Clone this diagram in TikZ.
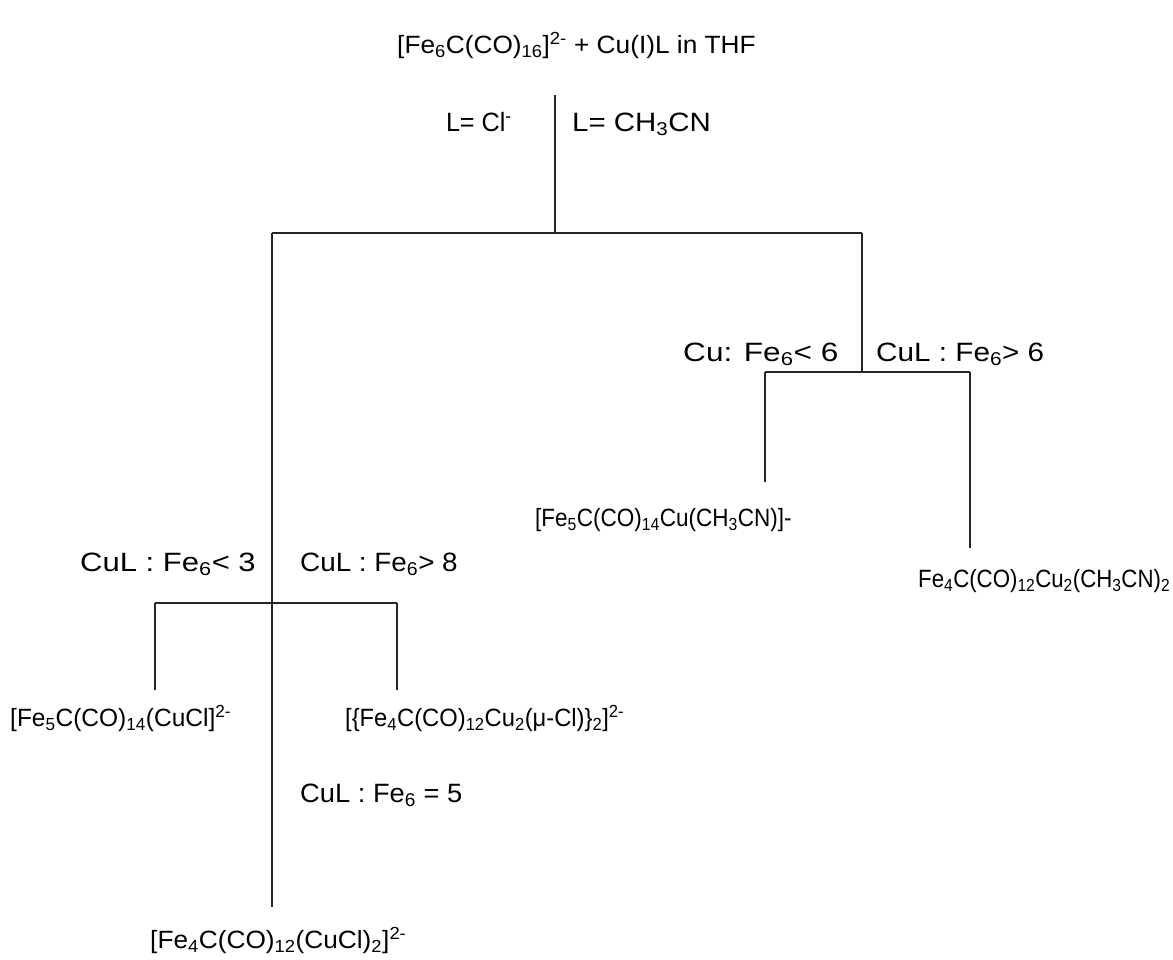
\documentclass[tikz,border=0pt]{standalone}
\usepackage{fontspec}
\setmainfont{Liberation Sans}
\newcommand\lo[1]{\textsubscript{#1}}
\newcommand\hi[1]{\textsuperscript{#1}}
\begin{document}
\begin{tikzpicture}[x=1pt,y=-1pt,
  lbl/.style={inner sep=0pt,font=\fontsize{25}{29}\selectfont,text height=18pt,text depth=5pt,anchor=west,transform shape,xscale=#1},
  lbl/.default=1,
  cond/.style={lbl=#1,font=\fontsize{26.5}{30}\selectfont},
  branch/.style={draw=black!85,line width=2.8pt}]
\useasboundingbox (0,0) rectangle (1173,959);
% texts
\node[lbl=1.05] (top) at (397,47) {[Fe\lo{6}C(CO)\lo{16}]\hi{2-} + Cu(I)L in THF};
\node[cond=0.95,anchor=east] (lcl) at (512,125) {L= Cl\hi{-}};
\node[cond=1.11] (lac) at (572,125) {L= CH\lo{3}CN};
\node[cond=1.19] (r1) at (683,355) {Cu: Fe\lo{6}< 6};
\node[cond=1.12] (r2) at (876,355) {CuL : Fe\lo{6}> 6};
\node[cond=1.17] (l1) at (80,565) {CuL : Fe\lo{6}< 3};
\node[cond=1.05] (l2) at (300,565) {CuL : Fe\lo{6}> 8};
\node[cond=1.03] (l3) at (300,796) {CuL : Fe\lo{6} = 5};
\node[lbl=0.9] (p1) at (535,520) {[Fe\lo{5}C(CO)\lo{14}Cu(CH\lo{3}CN)]-};
\node[lbl=0.89] (p2) at (918,581) {Fe\lo{4}C(CO)\lo{12}Cu\lo{2}(CH\lo{3}CN)\lo{2}};
\node[lbl=0.98] (p3) at (10,720) {[Fe\lo{5}C(CO)\lo{14}(CuCl]\hi{2-}};
\node[lbl=0.95] (p4) at (345,720) {[\{Fe\lo{4}C(CO)\lo{12}Cu\lo{2}(μ-Cl)\}\lo{2}]\hi{2-}};
\node[lbl=1.05] (p5) at (150,942) {[Fe\lo{4}C(CO)\lo{12}(CuCl)\lo{2}]\hi{2-}};
% junction coordinates
\coordinate (a0) at (555,95);
\coordinate (a1) at (555,233);
\coordinate (bl) at (272,233);
\coordinate (br) at (862,233);
\coordinate (c0) at (862,372);
\coordinate (cl) at (765,372);
\coordinate (cr) at (970,372);
\coordinate (cle) at (765,482);
\coordinate (cre) at (970,548);
\coordinate (d0) at (272,603);
\coordinate (dl) at (155,603);
\coordinate (dr) at (397,603);
\coordinate (dle) at (155,690);
\coordinate (dre) at (397,690);
\coordinate (le) at (272,907);
% connectors
\draw[branch] (a0) -- (a1);
\draw[branch] (bl) -- (br);
\draw[branch] (br) -- (c0);
\draw[branch] (cl) -- (cr);
\draw[branch] (cl) -- (cle);
\draw[branch] (cr) -- (cre);
\draw[branch] (bl) -- (le);
\draw[branch] (dl) -- (dr);
\draw[branch] (dl) -- (dle);
\draw[branch] (dr) -- (dre);
\end{tikzpicture}
\end{document}
